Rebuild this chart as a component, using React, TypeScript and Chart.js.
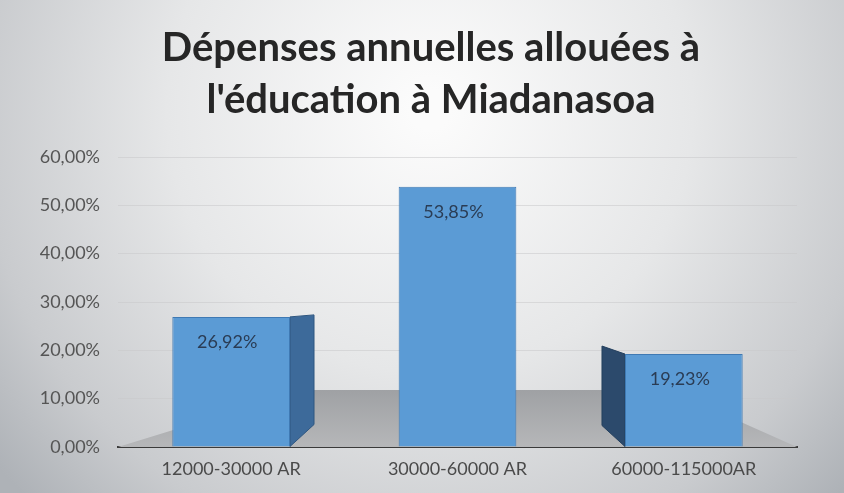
import React, { useEffect, useRef } from 'react';
import { Chart, registerables } from 'chart.js';

Chart.register(...registerables);

const categories = ['12000-30000 AR', '30000-60000 AR', '60000-115000AR'];
const values = [26.92, 53.85, 19.23];
const yMin = 0;
const yMax = 60;
const yStep = 10;
const titleLines = ['Dépenses annuelles allouées à', "l'éducation à Miadanasoa"];

const fmt = (v: number) => v.toFixed(2).replace('.', ',') + '%';

const W = 844;
const H = 493;
const FONT = 'Lato, "Open Sans", sans-serif';

const backgroundPlugin = {
  id: 'bgGradient',
  beforeDraw(chart: any) {
    const ctx = chart.ctx;
    ctx.save();
    const g = ctx.createRadialGradient(430, 110, 20, 430, 110, 560);
    g.addColorStop(0, '#fbfbfb');
    g.addColorStop(0.45, '#e6e7e8');
    g.addColorStop(0.8, '#c9cbce');
    g.addColorStop(1, '#aeb2b7');
    ctx.fillStyle = g;
    ctx.fillRect(0, 0, chart.width, chart.height);
    ctx.restore();
  },
  afterDraw(chart: any) {
    const ctx = chart.ctx;
    ctx.save();
    ctx.font = `bold 40px ${FONT}`;
    ctx.fillStyle = '#262626';
    ctx.textAlign = 'center';
    ctx.textBaseline = 'middle';
    ctx.fillText(titleLines[0], 431, 48);
    ctx.fillText(titleLines[1], 431, 100);
    ctx.restore();
  },
};

const floorPlugin = {
  id: 'floor3d',
  beforeDatasetsDraw(chart: any) {
    const { ctx, chartArea } = chart;
    const { left, right, bottom } = chartArea;
    ctx.save();
    const g = ctx.createLinearGradient(0, bottom - 57, 0, bottom);
    g.addColorStop(0, '#9fa1a4');
    g.addColorStop(1, '#b6b7b9');
    ctx.fillStyle = g;
    ctx.beginPath();
    ctx.moveTo(left, bottom);
    ctx.lineTo(left + 185, bottom - 57);
    ctx.lineTo(right - 128, bottom - 57);
    ctx.lineTo(right, bottom);
    ctx.closePath();
    ctx.fill();

    const meta = chart.getDatasetMeta(0);
    meta.data.forEach((bar: any, i: number) => {
      const p = bar.getProps(['x', 'y', 'base', 'width'], true);
      const half = p.width / 2;
      if (i === 0) {
        const x0 = p.x + half;
        ctx.fillStyle = '#3d6a9a';
        ctx.beginPath();
        ctx.moveTo(x0, p.y);
        ctx.lineTo(x0 + 24, p.y - 2);
        ctx.lineTo(x0 + 24, p.base - 22);
        ctx.lineTo(x0, p.base);
        ctx.closePath();
        ctx.fill();
        ctx.strokeStyle = '#2f5680';
        ctx.lineWidth = 1;
        ctx.stroke();
      } else if (i === meta.data.length - 1) {
        const x0 = p.x - half;
        ctx.fillStyle = '#2c4a6c';
        ctx.beginPath();
        ctx.moveTo(x0, p.y);
        ctx.lineTo(x0 - 23, p.y - 8);
        ctx.lineTo(x0 - 23, p.base - 21);
        ctx.lineTo(x0, p.base);
        ctx.closePath();
        ctx.fill();
        ctx.strokeStyle = '#24405e';
        ctx.lineWidth = 1;
        ctx.stroke();
      }
    });
    ctx.restore();
  },
};

const labelPlugin = {
  id: 'valueLabels',
  afterDatasetsDraw(chart: any) {
    const { ctx } = chart;
    const meta = chart.getDatasetMeta(0);
    ctx.save();
    ctx.font = `18px ${FONT}`;
    ctx.fillStyle = '#2a3c54';
    ctx.textAlign = 'center';
    ctx.textBaseline = 'middle';
    meta.data.forEach((bar: any, i: number) => {
      const p = bar.getProps(['x', 'y'], true);
      ctx.fillText(fmt(values[i]), p.x - 4, p.y + 25);
    });
    ctx.restore();
  },
};

export default function App() {
  const ref = useRef<HTMLCanvasElement>(null);

  useEffect(() => {
    document.body.style.margin = '0';
    const canvas = ref.current;
    if (!canvas) return;
    const chart = new Chart(canvas, {
      type: 'bar',
      data: {
        labels: categories,
        datasets: [
          {
            data: values,
            backgroundColor: '#5b9bd5',
            borderColor: '#3f79b3',
            borderWidth: 1,
            barPercentage: 0.52,
            categoryPercentage: 1,
          },
        ],
      },
      options: {
        responsive: false,
        animation: false,
        devicePixelRatio: 1,
        layout: { padding: { left: 0, right: 47, top: 157, bottom: 11 } },
        plugins: {
          legend: { display: false },
          tooltip: { enabled: false },
          title: { display: false },
        },
        scales: {
          x: {
            grid: { display: false, drawTicks: false },
            border: { display: true, color: '#3a3a3a', width: 2 },
            ticks: {
              color: '#4a4a4a',
              font: { family: FONT, size: 18 },
              padding: 11,
              maxRotation: 0,
            },
            afterFit: (scale: any) => {
              scale.height = 35;
            },
          },
          y: {
            min: yMin,
            max: yMax,
            ticks: {
              stepSize: yStep,
              color: '#555555',
              font: { family: FONT, size: 18 },
              padding: 18,
              callback: (v: any) => fmt(Number(v)),
            },
            grid: { color: 'rgba(200,201,203,0.55)', drawTicks: false, lineWidth: 1 },
            border: { display: false },
            afterFit: (scale: any) => {
              scale.width = 118;
            },
          },
        },
      },
      plugins: [backgroundPlugin, floorPlugin, labelPlugin],
    });
    return () => chart.destroy();
  }, []);

  return (
    <div style={{ width: W, height: H }}>
      <canvas ref={ref} width={W} height={H} style={{ display: 'block' }} />
    </div>
  );
}
